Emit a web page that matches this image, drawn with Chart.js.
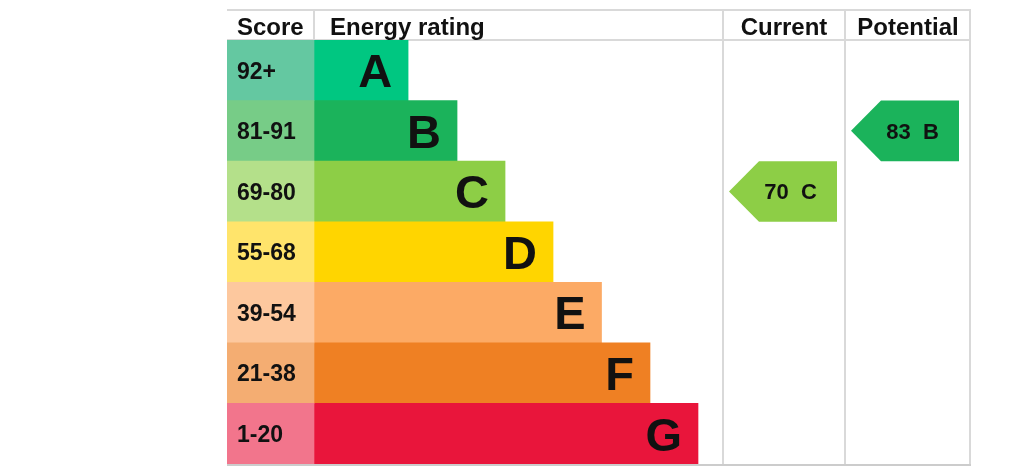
<!DOCTYPE html>
<html>
<head>
<meta charset="utf-8">
<script src="https://cdn.jsdelivr.net/npm/chart.js@4/dist/chart.umd.min.js"></script>
<style>
  html, body { margin: 0; padding: 0; background: #fff; }
  #wrap { width: 1024px; height: 473px; }
</style>
</head>
<body>
<div id="wrap"><canvas id="c-epc" width="1024" height="473"></canvas></div>
<script>
// bands, top to bottom
const bands       = ['A', 'B', 'C', 'D', 'E', 'F', 'G'];
const scoreRanges = ['92+', '81-91', '69-80', '55-68', '39-54', '21-38', '1-20'];
const bandMin     = [92, 81, 69, 55, 39, 21, 1];
const bandLength  = [1.96, 2.98, 3.98, 4.98, 5.99, 7, 8];   // rating bar length, in bar units
const bandColors  = ['#00c781', '#1bb35b', '#8dce46', '#ffd500', '#fcaa65', '#ef8023', '#e9153b'];
const scoreColors = ['#64c8a1', '#77cc87', '#b4e08a', '#ffe46b', '#fdc89e', '#f4ad72', '#f2758c'];
const headers     = ['Score', 'Energy rating', 'Current', 'Potential'];
const currentScore   = 70;
const potentialScore = 83;

// table geometry, in bar units along x
const SCORE_W = 1.8125;
const COL_CUR = 10.333;
const COL_POT = 12.875;
const X_MAX   = 15.5;
const ARROW_W = 2.25, ARROW_TIP = 0.625, ARROW_PAD = 0.125;

const FONT = '"Liberation Sans", Arial, Helvetica, sans-serif';
const LINE = '#d9d9d9';
const INK  = '#111';

const bandOf = s => bandMin.findIndex(m => s >= m);

const epcPlugin = {
  id: 'epc',
  beforeDatasetsDraw(chart) {
    const { ctx, chartArea: a, scales: { x } } = chart;
    const top = a.top - 30;
    ctx.save();
    ctx.strokeStyle = LINE;
    ctx.lineWidth = 2;
    ctx.beginPath();
    ctx.moveTo(a.left, top); ctx.lineTo(a.right, top);
    ctx.moveTo(a.left, a.top); ctx.lineTo(a.right, a.top);
    ctx.moveTo(x.getPixelForValue(SCORE_W), top); ctx.lineTo(x.getPixelForValue(SCORE_W), a.top);
    [COL_CUR, COL_POT].forEach(v => {
      ctx.moveTo(x.getPixelForValue(v), top); ctx.lineTo(x.getPixelForValue(v), a.bottom);
    });
    ctx.moveTo(a.right - 1, top); ctx.lineTo(a.right - 1, a.bottom);
    ctx.stroke();
    ctx.strokeStyle = '#cccccc';
    ctx.beginPath();
    ctx.moveTo(a.left, a.bottom + 1); ctx.lineTo(a.right, a.bottom + 1);
    ctx.stroke();
    ctx.restore();
  },
  afterDatasetsDraw(chart) {
    const { ctx, chartArea: a, scales: { x, y } } = chart;
    const rowH = a.height / bands.length;
    ctx.save();
    ctx.fillStyle = INK;

    // header row
    ctx.font = `bold 24px ${FONT}`;
    ctx.textBaseline = 'alphabetic';
    ctx.textAlign = 'left';
    ctx.fillText(headers[0], a.left + 10, a.top - 5);
    ctx.fillText(headers[1], x.getPixelForValue(SCORE_W) + 16, a.top - 5);
    ctx.textAlign = 'center';
    ctx.fillText(headers[2], (x.getPixelForValue(COL_CUR) + x.getPixelForValue(COL_POT)) / 2, a.top - 5);
    ctx.fillText(headers[3], (x.getPixelForValue(COL_POT) + a.right) / 2, a.top - 5);

    // score ranges + band letters
    bands.forEach((b, i) => {
      const yc = y.getPixelForValue(i);
      ctx.textAlign = 'left';
      ctx.font = `bold 23px ${FONT}`;
      ctx.fillText(scoreRanges[i], a.left + 10, yc + 0.36 * 23);
      ctx.textAlign = 'right';
      ctx.font = `bold 47px ${FONT}`;
      ctx.fillText(b, x.getPixelForValue(SCORE_W + bandLength[i]) - 16, yc + 0.36 * 47);
    });

    // current / potential arrows
    [[currentScore, COL_CUR], [potentialScore, COL_POT]].forEach(([s, col]) => {
      const i  = bandOf(s);
      const yc = y.getPixelForValue(i);
      const t = yc - rowH / 2, btm = yc + rowH / 2;
      const l  = x.getPixelForValue(col + ARROW_PAD);
      const tp = x.getPixelForValue(col + ARROW_PAD + ARROW_TIP);
      const r  = x.getPixelForValue(col + ARROW_PAD + ARROW_W);
      ctx.fillStyle = bandColors[i];
      ctx.beginPath();
      ctx.moveTo(l, yc); ctx.lineTo(tp, t); ctx.lineTo(r, t);
      ctx.lineTo(r, btm); ctx.lineTo(tp, btm); ctx.closePath();
      ctx.fill();
      ctx.fillStyle = INK;
      ctx.font = `bold 22px ${FONT}`;
      ctx.textAlign = 'center';
      ctx.fillText(`${s}  ${bands[i]}`, l + 0.57 * (r - l), yc + 0.36 * 22);
    });
    ctx.restore();
  },
};

new Chart(document.getElementById('c-epc'), {
  type: 'bar',
  data: {
    labels: bands,
    datasets: [
      { label: 'Score', data: bands.map(() => SCORE_W), backgroundColor: scoreColors,
        borderWidth: 0, categoryPercentage: 1, barPercentage: 1 },
      { label: 'Energy rating', data: bandLength, backgroundColor: bandColors,
        borderWidth: 0, categoryPercentage: 1, barPercentage: 1 },
    ],
  },
  options: {
    indexAxis: 'y', responsive: false, animation: false, devicePixelRatio: 1,
    layout: { padding: { left: 227, right: 53, top: 40, bottom: 9 } },
    plugins: { legend: { display: false }, tooltip: { enabled: false } },
    scales: {
      x: { stacked: true, min: 0, max: X_MAX, display: false },
      y: { stacked: true, display: false },
    },
  },
  plugins: [epcPlugin],
});
</script>
</body>
</html>
